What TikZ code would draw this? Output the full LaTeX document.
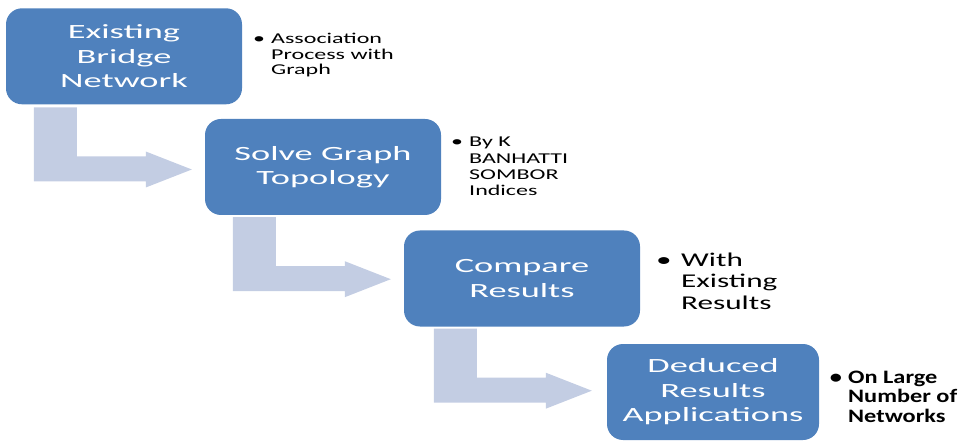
\documentclass[tikz,border=0pt]{standalone}
\usepackage{fontspec}
\setmainfont{Carlito}
\newfontfamily\boxfont[FakeStretch=1.8]{Carlito}
\newfontfamily\sidefont[FakeStretch=1.6]{Carlito}
\newfontfamily\sideboldfont[FakeStretch=1.28]{Carlito}
\definecolor{boxblue}{HTML}{4F81BD}
\definecolor{flowgrey}{HTML}{C3CDE3}
\tikzset{
  stepbox/.style={fill=boxblue, rounded corners=16pt, inner sep=0pt,
    minimum width=236pt, minimum height=96pt, text=white, align=center,
    font=\boxfont\fontsize{20.2}{24.5}\selectfont},
  flow/.style={fill=flowgrey},
  note/.style={anchor=base west, inner sep=0pt, align=left, text=black},
  bul/.style={anchor=base, inner sep=0pt, text=black},
}
\begin{document}
\begin{tikzpicture}[x=1pt,y=-1pt]
\useasboundingbox (0,0) rectangle (965,443);
% boxes
\node[stepbox] (b1) at (124,56.3) {Existing\\Bridge\\Network};
\node[stepbox] (b2) at (323,167) {Solve Graph\\Topology};
\node[stepbox] (b3) at (522,278.5) {Compare\\Results};
\node[stepbox, minimum width=212pt] (b4) at (713,392) {Deduced\\Results\\Applications};
% bent arrows
\fill[flow] ([xshift=28pt,yshift=-3pt]b1.south west) -- ++(43,0) -- ++(0,49) -- ++(69,0) -- ++(0,-5) -- ++(46,18) -- ++(-46,18) -- ++(0,-6) -- ++(-112,0) -- cycle;
\fill[flow] ([xshift=28pt,yshift=-2pt]b2.south west) -- ++(43,0) -- ++(0,49) -- ++(69,0) -- ++(0,-5) -- ++(46,18) -- ++(-46,18) -- ++(0,-6) -- ++(-112,0) -- cycle;
\fill[flow] ([xshift=30pt,yshift=-2pt]b3.south west) -- ++(43,0) -- ++(0,49) -- ++(69,0) -- ++(0,-5) -- ++(46,18) -- ++(-46,18) -- ++(0,-6) -- ++(-112,0) -- cycle;
% side notes (node base = last line's baseline)
\node[bul, font=\sidefont\fontsize{15}{15.3}\selectfont] (d1) at (259,44) {•};
\node[note, font=\sidefont\fontsize{15}{15.3}\selectfont] (n1) at (271,74.6) {Association\\Process with\\Graph};
\node[bul, font=\sidefont\fontsize{15}{16.3}\selectfont] (d2) at (457,147) {•};
\node[note, font=\sidefont\fontsize{15}{16.3}\selectfont] (n2) at (469,195.9) {By K\\BANHATTI\\SOMBOR\\Indices};
\node[bul, font=\sidefont\fontsize{19.5}{21.5}\selectfont] (d3) at (664,266) {•};
\node[note, font=\sidefont\fontsize{19.5}{21.5}\selectfont] (n3) at (681,309) {With\\Existing\\Results};
\node[bul, font=\sideboldfont\bfseries\fontsize{19}{19.5}\selectfont] (d4) at (836,383) {•};
\node[note, font=\sideboldfont\bfseries\fontsize{19}{19.5}\selectfont] (n4) at (848,422) {On Large\\Number of\\Networks};
\end{tikzpicture}
\end{document}
